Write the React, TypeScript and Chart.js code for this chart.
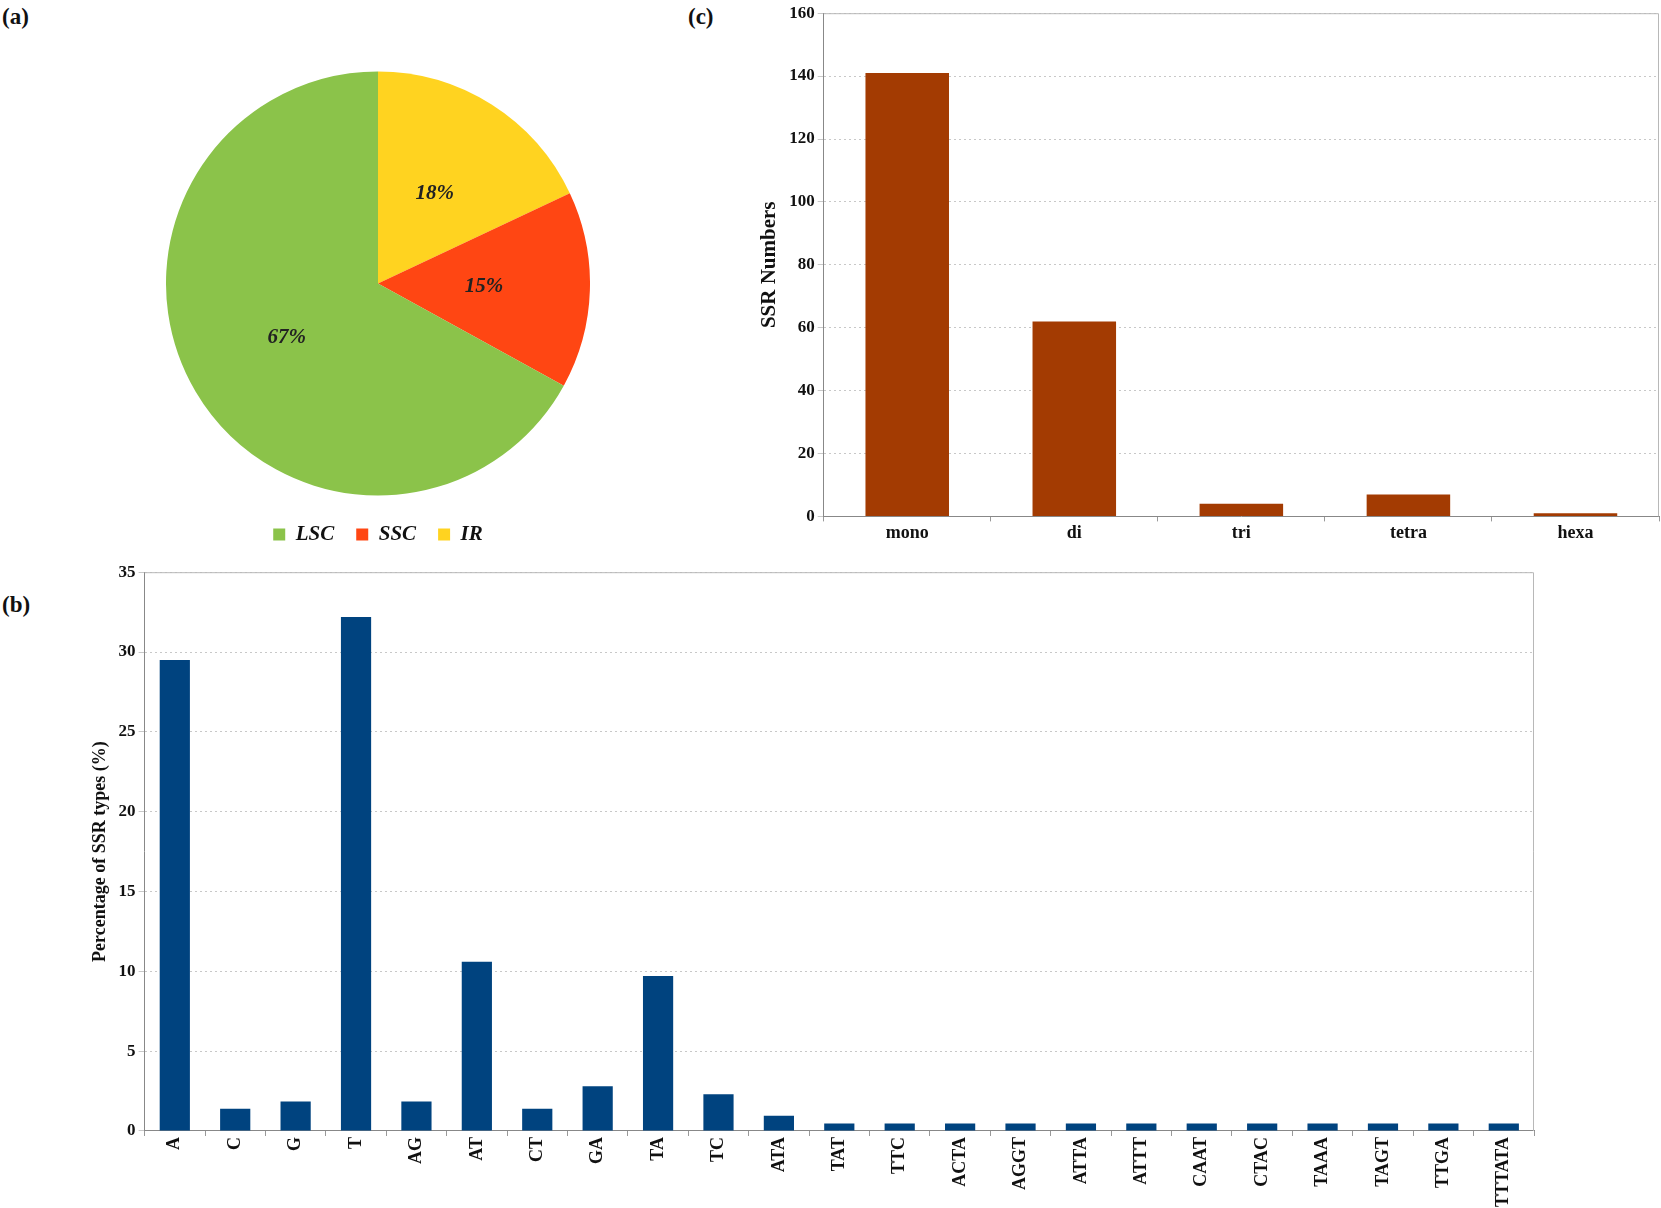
import React, { useEffect, useRef } from "react";
import { Chart, registerables } from "chart.js";
Chart.register(...registerables);

const pieLabels = ["IR", "SSC", "LSC"];
const pieValues = [18, 15, 67];
const pieColors = ["#FFD320", "#FF4613", "#8BC34A"];

const ssrTypes = ["mono", "di", "tri", "tetra", "hexa"];
const ssrNumbers = [141, 62, 4, 7, 1];

const motifs = ["A","C","G","T","AG","AT","CT","GA","TA","TC","ATA","TAT","TTC","ACTA","AGGT","ATTA","ATTT","CAAT","CTAC","TAAA","TAGT","TTGA","TTTATA"];
const motifPct = [29.5,1.4,1.85,32.2,1.85,10.6,1.4,2.8,9.7,2.3,0.95,0.47,0.47,0.47,0.47,0.47,0.47,0.47,0.47,0.47,0.47,0.47,0.47];

const SERIF = "'Liberation Serif', 'DejaVu Serif', serif";

const frame = {
  id: "frame",
  afterDraw(c: any) {
    const a = c.chartArea, ctx = c.ctx;
    ctx.save();
    ctx.strokeStyle = "#b8b8b8";
    ctx.lineWidth = 1;
    ctx.beginPath();
    ctx.moveTo(a.left, a.top + 0.5); ctx.lineTo(a.right - 0.5, a.top + 0.5); ctx.lineTo(a.right - 0.5, a.bottom);
    ctx.stroke();
    ctx.restore();
  },
};

const pieText = {
  id: "pieText",
  afterDatasetsDraw(c: any) {
    const ctx = c.ctx;
    const meta = c.getDatasetMeta(0);
    ctx.save();
    ctx.font = `italic bold 21px ${SERIF}`;
    ctx.fillStyle = "#222";
    ctx.textAlign = "center";
    ctx.textBaseline = "middle";
    meta.data.forEach((arc: any, i: number) => {
      const p = arc.getCenterPoint();
      ctx.fillText(pieValues[i] + "%", p.x, p.y);
    });
    ctx.restore();
  },
};

function barOpts(max: number, step: number, title: string, rot: number, titleSize: number, padLeft: number, padTop: number): any {
  return {
    animation: false,
    responsive: true,
    maintainAspectRatio: false,
    plugins: { legend: { display: false }, tooltip: { enabled: false } },
    layout: { padding: { top: padTop, right: 2, left: padLeft } },
    scales: {
      x: {
        offset: true,
        grid: { display: true, drawOnChartArea: false, drawTicks: true, tickLength: 5, color: "#999", offset: true },
        border: { color: "#888" },
        ticks: { padding: 1, color: "#111", font: { family: SERIF, weight: "bold", size: 18 }, minRotation: rot, maxRotation: rot, autoSkip: false },
      },
      y: {
        min: 0, max: max,
        grid: { color: "#c8c8c8", drawTicks: true, tickLength: 6 },
        border: { color: "#888", dash: [2, 3] },
        ticks: { stepSize: step, color: "#111", font: { family: SERIF, weight: "bold", size: 17 } },
        title: { display: true, text: title, color: "#111", font: { family: SERIF, weight: "bold", size: titleSize } },
      },
    },
  };
}

export default function App() {
  const r1 = useRef<HTMLCanvasElement>(null);
  const r2 = useRef<HTMLCanvasElement>(null);
  const r3 = useRef<HTMLCanvasElement>(null);
  useEffect(() => {
    const pie = new Chart(r1.current!, {
      type: "pie",
      data: { labels: pieLabels, datasets: [{ data: pieValues, backgroundColor: pieColors, borderWidth: 0 }] },
      options: {
        animation: false, responsive: true, maintainAspectRatio: false,
        plugins: {
          tooltip: { enabled: false },
          legend: {
            position: "bottom", reverse: true,
            labels: { boxWidth: 12, boxHeight: 12, padding: 22, color: "#111", font: { family: SERIF, weight: "bold", style: "italic", size: 21 } },
          },
        },
      } as any,
      plugins: [pieText],
    });
    const c = new Chart(r2.current!, {
      type: "bar",
      data: { labels: ssrTypes, datasets: [{ data: ssrNumbers, backgroundColor: "#A33B02", barPercentage: 0.5, categoryPercentage: 1 }] },
      options: barOpts(160, 20, "SSR Numbers", 0, 21, 18, 11),
      plugins: [frame],
    });
    const b = new Chart(r3.current!, {
      type: "bar",
      data: { labels: motifs, datasets: [{ data: motifPct, backgroundColor: "#00437F", barPercentage: 0.5, categoryPercentage: 1 }] },
      options: barOpts(35, 5, "Percentage of SSR types (%)", 90, 18, 36, 8),
      plugins: [frame],
    });
    return () => { pie.destroy(); c.destroy(); b.destroy(); };
  }, []);
  const lab: React.CSSProperties = { position: "absolute", fontFamily: SERIF, fontWeight: "bold", fontSize: 23, color: "#111" };
  return (
    <div style={{ position: "absolute", left: 0, top: 0, width: 1661, height: 1208, background: "#fff", overflow: "hidden" }}>
      <div style={{ ...lab, left: 2, top: 4 }}>(a)</div>
      <div style={{ ...lab, left: 688, top: 4 }}>(c)</div>
      <div style={{ ...lab, left: 2, top: 592 }}>(b)</div>
      <div style={{ position: "absolute", left: 166, top: 65, width: 424, height: 490 }}><canvas ref={r1} /></div>
      <div style={{ position: "absolute", left: 735, top: 0, width: 926, height: 545 }}><canvas ref={r2} /></div>
      <div style={{ position: "absolute", left: 50, top: 559, width: 1486, height: 649 }}><canvas ref={r3} /></div>
    </div>
  );
}
